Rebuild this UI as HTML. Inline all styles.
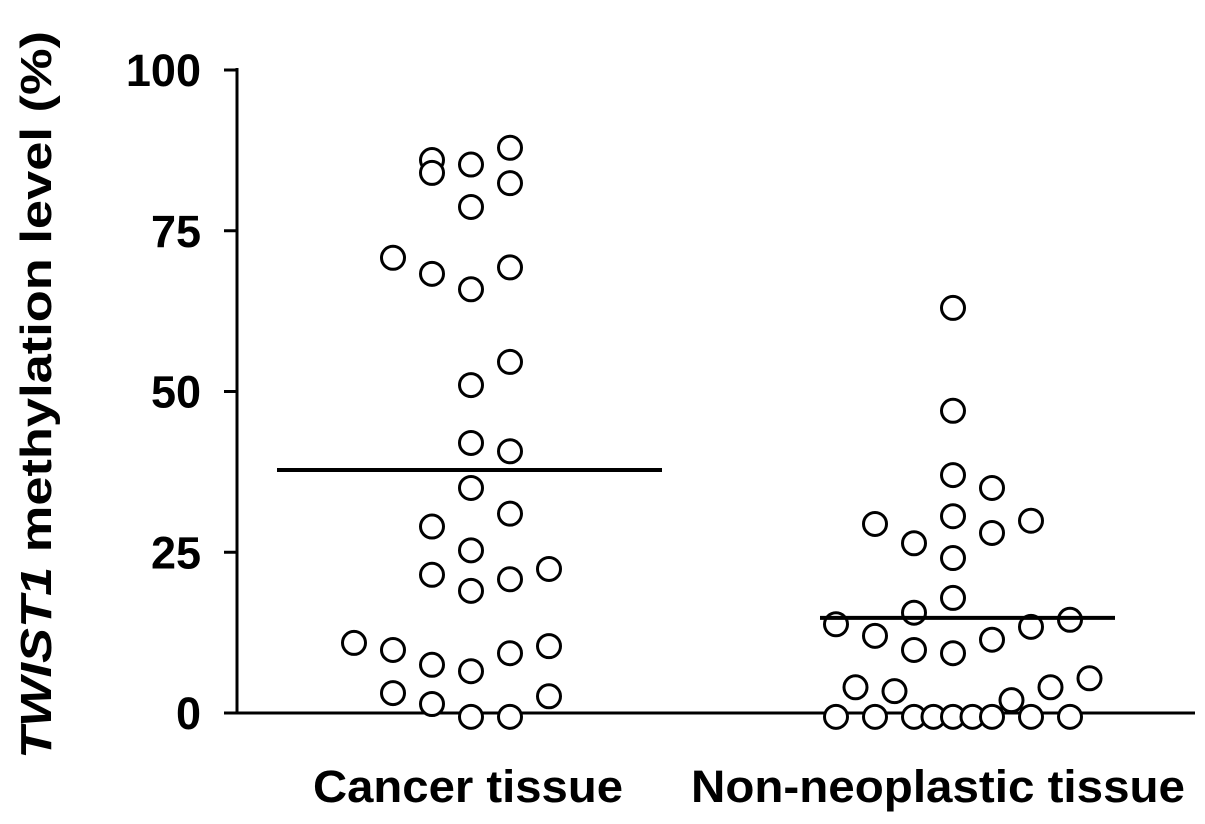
<!DOCTYPE html>
<html><head><meta charset="utf-8"><style>
html,body{margin:0;padding:0;background:#fff;width:1205px;height:824px;overflow:hidden}
svg text{font-family:"Liberation Sans",Arial,sans-serif;font-weight:bold;fill:#000}
</style></head><body>
<svg id="chart" width="1205" height="824" viewBox="0 0 1205 824" xmlns="http://www.w3.org/2000/svg"></svg>
<script>
const categories = ["Cancer tissue", "Non-neoplastic tissue"];
const cancerValues = [86,84,85.3,87.9,82.4,78.7,70.8,68.3,69.3,65.9,54.6,51,42,40.7,35,29,31,25.3,21.5,20.8,19,22.4,10.9,9.8,7.5,6.5,9.3,10.4,3.1,1.4,-0.6,-0.6,2.6];
const cancerSlots = [-1,-1,0,1,1,0,-2,-1,1,0,1,0,0,1,0,-1,1,0,-1,1,0,2,-3,-2,-1,0,1,2,-2,-1,0,1,2];
const normalValues = [63,47,37,35,30.6,29.4,29.9,26.4,28,24.1,17.9,15.6,13.8,12,13.4,14.5,9.8,9.3,11.4,4,3.4,2,4,5.4,-0.6,-0.6,-0.6,-0.6,-0.6,-0.6,-0.6,-0.6,-0.6];
const normalSlots = [0,0,0,1,0,-2,2,-1,1,0,0,-1,-3,-2,2,3,-1,0,1,-2.5,-1.5,1.5,2.5,3.5,-3,-2,-1,-0.5,0,0.5,1,2,3];
const means = [37.8, 14.8];
const yTicks = [0,25,50,75,100];

const svg = document.getElementById('chart');
const NS = 'http://www.w3.org/2000/svg';
const y = v => 713 - v * 6.43;
const xCenter = i => [471, 953][i];
const slotW = 39;
function mk(tag, attrs, parent){const e=document.createElementNS(NS,tag);for(const k in attrs)e.setAttribute(k,attrs[k]);(parent||svg).appendChild(e);return e;}

let yAxis = mk('line',{x1:237,y1:68,x2:237,y2:714.5,stroke:'#000','stroke-width':3});


let xAxis = mk('line',{x1:235.5,y1:713,x2:1195,y2:713,stroke:'#000','stroke-width':3});



yTicks.forEach(t=>{
  const tk = mk('line',{x1:224,y1:y(t),x2:237,y2:y(t),stroke:'#000','stroke-width':3});
  
  
  const lb = mk('text',{x:201,y:y(t)+16,'text-anchor':'end','font-size':45});
  lb.textContent = t;
  
  
});

const yt = mk('text',{transform:'translate(51,395) rotate(-90)','text-anchor':'middle','font-size':44,textLength:728,lengthAdjust:'spacingAndGlyphs'});


yt.innerHTML = '<tspan font-style="italic">TWIST1</tspan> methylation level (%)';

const catX = [468, 938];
const catW = [310, 494];
categories.forEach((c,i)=>{
  const t = mk('text',{x:catX[i],y:802,'text-anchor':'middle','font-size':45,textLength:catW[i],lengthAdjust:'spacingAndGlyphs'});
  t.textContent = c;
  
  
});

function drawGroup(vals, slots, gi){
  vals.forEach((v,k)=>{
    const c = mk('circle',{cx:xCenter(gi)+slots[k]*slotW,cy:y(v),r:11.5,fill:'#fff',stroke:'#000','stroke-width':3});
    
    
  });
}
drawGroup(cancerValues, cancerSlots, 0);
drawGroup(normalValues, normalSlots, 1);

const meanSpan = [[277,662],[820,1115]];
means.forEach((m,i)=>{
  const l = mk('line',{x1:meanSpan[i][0],y1:y(m),x2:meanSpan[i][1],y2:y(m),stroke:'#000','stroke-width':4});
  
  
});
</script>
</body></html>
